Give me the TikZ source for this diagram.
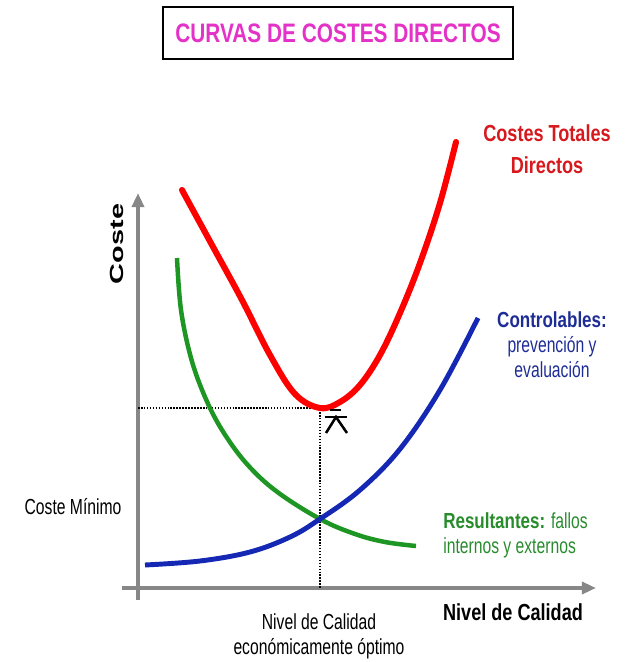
\documentclass[tikz,border=0pt]{standalone}
\usepackage{fontspec}
\setmainfont{Liberation Sans}[UprightFeatures={FakeStretch=0.72}, BoldFeatures={FakeStretch=0.78}]
\newfontfamily\plainsans{Liberation Sans}
\usetikzlibrary{arrows.meta}
\definecolor{titlepink}{RGB}{228,50,200}
\definecolor{totalred}{RGB}{255,0,0}
\definecolor{totaltext}{RGB}{215,25,30}
\definecolor{ctrlblue}{RGB}{20,40,180}
\definecolor{ctrltext}{RGB}{30,45,150}
\definecolor{resgreen}{RGB}{30,150,35}
\definecolor{restext}{RGB}{40,140,45}
\definecolor{axisgray}{RGB}{135,135,135}

\begin{document}
\begin{tikzpicture}[x=0.025cm, y=-0.025cm,
  axis/.style={draw=axisgray, line width=2.8pt, -{Triangle[length=10pt,width=8.5pt]}},
  guide/.style={densely dotted, line width=1.1pt},
  lab/.style={inner sep=0pt, align=center, font=\fontsize{15.5}{17.8}\selectfont},
  boldlab/.style={inner sep=0pt, align=center, font=\fontsize{16.5}{22.7}\selectfont\bfseries}]

\useasboundingbox (0,0) rectangle (629,662);

\node[draw, line width=1.5pt, minimum width=350*0.025cm, minimum height=52*0.025cm,
  text=titlepink, font=\fontsize{19}{21}\selectfont\bfseries] (title) at (338,33) {CURVAS DE COSTES DIRECTOS};

\coordinate (o) at (138,588);
\coordinate (ytop) at (138,193);
\coordinate (ybot) at (138,600);
\coordinate (xleft) at (122,588);
\coordinate (xright) at (596,588);
\coordinate (min) at (320,408);
\coordinate (miny) at (138,408);
\coordinate (minx) at (320,588);

\draw[axis] (ybot) -- (ytop);
\draw[axis] (xleft) -- (xright);

\draw[guide] (miny) -- (min) -- (minx);

\draw[resgreen, line width=3.2pt] plot[smooth, tension=0.6] coordinates {
  (177,258) (181,310) (191,358) (205,397) (222,430) (246,463) (276,491)
  (320,519) (355,534) (385,542) (416,546)};

\draw[ctrlblue, line width=3.5pt] plot[smooth, tension=0.6] coordinates {
  (145,565) (200,561) (250,552) (290,537) (320,519) (360,490) (400,449)
  (440,390) (478,318)};

\draw[totalred, line width=4.3pt, line cap=round] plot[smooth, tension=0.6] coordinates {
  (182,190) (212,245) (242,300) (270,355) (295,394) (320,408) (340,402)
  (360,385) (380,355) (400,313) (420,263) (440,203) (456,142)};

\coordinate (mk) at (336,417);
\draw[line width=1.8pt] ([xshift=-6*0.025cm, yshift=7*0.025cm]mk) -- ([xshift=5*0.025cm, yshift=7*0.025cm]mk);
\draw[line width=1.8pt] ([xshift=-11*0.025cm]mk) -- ([xshift=11*0.025cm]mk);
\draw[line width=1.8pt] ([xshift=-10*0.025cm, yshift=-16*0.025cm]mk) -- (mk) -- ([xshift=11*0.025cm, yshift=-16*0.025cm]mk);

\node[boldlab, text=totaltext] (total) at (547,149) {Costes Totales\\Directos};
\node[lab, text=ctrltext] (ctrl) at (552,345) {{\bfseries Controlables:}\\prevención y\\evaluación};
\node[lab, text=restext, align=left, anchor=west] (res) at (443,535) {{\bfseries Resultantes:} fallos\\internos y externos};
\node[lab] (cmin) at (73,507) {Coste Mínimo};
\node[boldlab] (xlab) at (513,612) {Nivel de Calidad};
\node[lab] (opt) at (319,636) {Nivel de Calidad\\económicamente óptimo};
\node[inner sep=0pt, rotate=90] (ylab) at (117,244) {\scalebox{1}[0.66]{\plainsans\fontsize{20.5}{22}\selectfont\bfseries Coste}};

\end{tikzpicture}
\end{document}
